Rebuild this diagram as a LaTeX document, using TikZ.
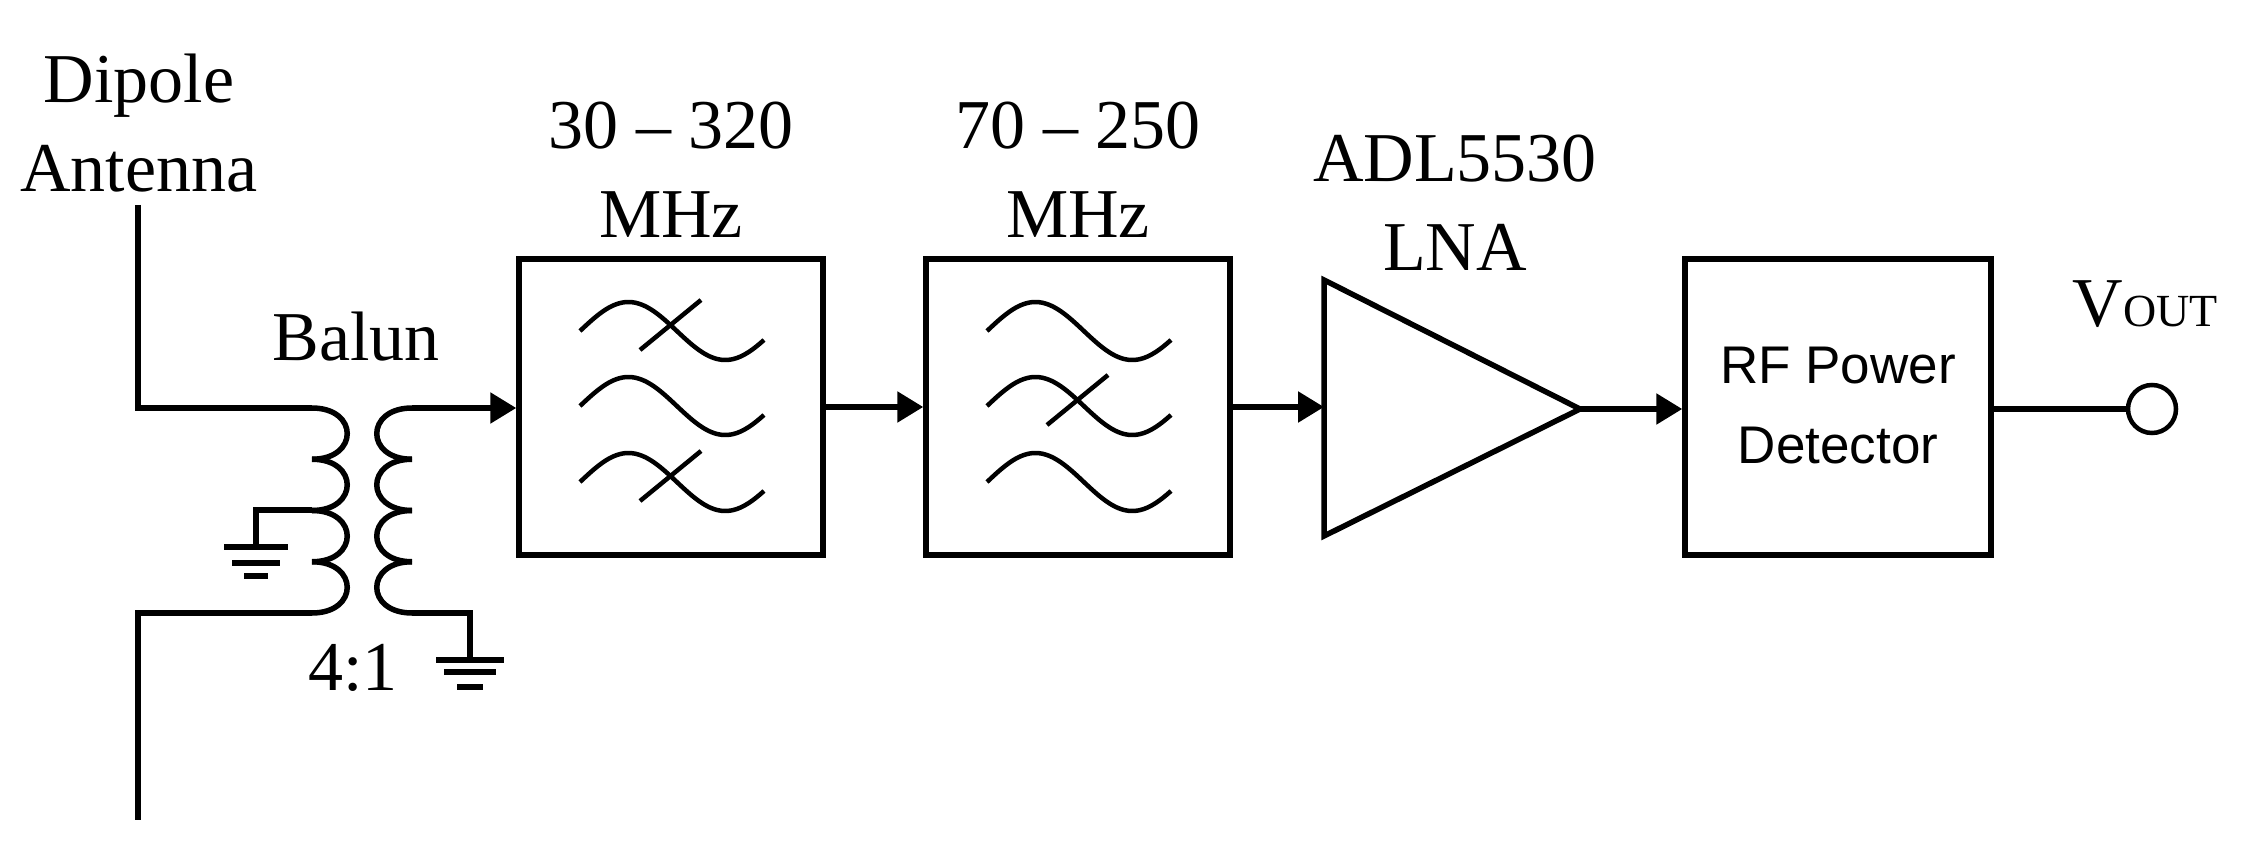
\documentclass[tikz,border=0pt]{standalone}
\usepackage{fontspec}
\setmainfont{Liberation Serif}
\newfontfamily\detfont{Liberation Sans}
\usetikzlibrary{arrows.meta, positioning}

\begin{document}
\begin{tikzpicture}[x=1pt, y=-1pt,
    wire/.style={line width=5.5pt},
    block/.style={draw, line width=5.5pt, minimum width=304pt, minimum height=296pt, inner sep=0pt},
    label/.style={font=\fontsize{70}{89}\selectfont, align=center},
    arrow/.style={wire, -{Triangle[length=26pt, width=30pt]}},
    wave/.style={line width=4.5pt, domain=0:184, samples=40, smooth}
]
\useasboundingbox (0,0) rectangle (2251,850);

% Antenna and balun
\node[label] (antenna) at (139,123) {Dipole\\Antenna};
\node[label] (balun) at (356,337) {Balun};
\node[label] (ratio) at (353,668) {4:1};
\coordinate (anttop) at (138,205);
\coordinate (antbot) at (138,820);
\coordinate (ptop) at (312,408);
\coordinate (pbot) at (312,613);
\coordinate (stop) at (412,408);
\coordinate (sbot) at (412,613);
\draw[wire] (anttop) |- (ptop);
\draw[wire] (pbot) -| (antbot);
\foreach \i in {0,...,3} {
    \draw[wire] (312,408+51.25*\i) .. controls (359,408+51.25*\i) and (359,459.25+51.25*\i) .. (312,459.25+51.25*\i);
    \draw[wire] (412,408+51.25*\i) .. controls (365,408+51.25*\i) and (365,459.25+51.25*\i) .. (412,459.25+51.25*\i);
}
% Grounds
\coordinate (tap) at (312,510);
\coordinate (gnd1) at (256,547);
\coordinate (gnd2) at (470,660);
\draw[wire] (tap) -| (gnd1);
\draw[wire] (224,547) -- (288,547);
\draw[wire] (232,563) -- (280,563);
\draw[wire] (244,576) -- (268,576);
\draw[wire] (sbot) -| (gnd2);
\draw[wire] (436,660) -- (504,660);
\draw[wire] (444,672) -- (496,672);
\draw[wire] (457,687) -- (483,687);

% Filters
\node[block] (bpfa) at (671,407) {};
\node[block] (bpfb) at (1078,407) {};
\node[label] (fa) at (671,170) {30 -- 320\\MHz};
\node[label] (fb) at (1078,170) {70 -- 250\\MHz};
\foreach \cx/\cy in {580/331, 580/406, 580/482, 987/331, 987/406, 987/482}
    \draw[wave] plot ({\cx+\x}, {\cy-29*sin(\x/184*360*0.95)});
\foreach \cx/\cy in {580/331, 580/482, 987/406}
    \draw[line width=4.5pt] (\cx+60,\cy+19) -- (\cx+121,\cy-31);

% LNA
\coordinate (lnatop) at (1324,280);
\coordinate (lnabot) at (1324,536);
\coordinate (lnatip) at (1580,409);
\draw[wire, line join=miter] (lnatop) -- (lnatip) -- (lnabot) -- cycle;
\node[label] (lna) at (1455,203) {ADL5530\\LNA};

% Detector and output
\node[block, minimum width=306pt] (det) at (1838,407)
    {\detfont\fontsize{53}{82}\selectfont\begin{tabular}{c}RF Power\\[-2pt]Detector\end{tabular}};
\node[draw, circle, line width=4.5pt, minimum size=48pt, inner sep=0pt] (vout) at (2152,409) {};
\node[label] (voutlbl) at (2145,304) {V\fontsize{46}{50}\selectfont OUT};

% Signal path
\draw[arrow] (stop) -- (bpfa.west |- stop);
\draw[arrow] (bpfa) -- (bpfb);
\draw[arrow] (bpfb.east) -- (lnatop |- bpfb.east);
\draw[arrow] (lnatip) -- (det.west |- lnatip);
\draw[wire] (det.east |- vout) -- (vout);
\end{tikzpicture}
\end{document}
